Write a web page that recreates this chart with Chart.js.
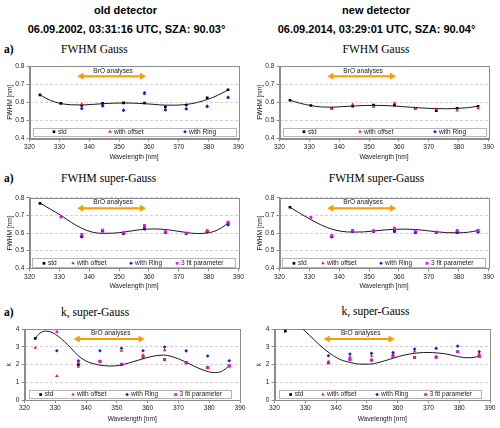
<!DOCTYPE html>
<html><head><meta charset="utf-8">
<script src="https://cdn.jsdelivr.net/npm/chart.js@4/dist/chart.umd.min.js"></script>
<style>
body{margin:0;width:500px;height:428px;background:#fff;position:relative;overflow:hidden}
.t{position:absolute;white-space:nowrap;transform:translate(-50%,-50%);line-height:1}
.h{font:bold 11px "Liberation Sans",Arial,sans-serif;color:#000}
.s{font:11.5px "Liberation Serif","Times New Roman",serif;color:#000}
.a{font:bold 11.5px "Liberation Serif","Times New Roman",serif;color:#000}
.l{transform:translate(0,-50%)}
canvas{position:absolute}
</style></head><body>
<div class="t h" style="left:125.5px;top:10px">old detector</div>
<div class="t h" style="left:126.5px;top:29px">06.09.2002, 03:31:16 UTC, SZA: 90.03°</div>
<div class="t h" style="left:376px;top:10px">new detector</div>
<div class="t h" style="left:376.5px;top:29px">06.09.2014, 03:29:01 UTC, SZA: 90.04°</div>

<div class="t a l" style="left:4px;top:49px">a)</div>
<div class="t s l" style="left:61px;top:49px">FWHM Gauss</div>
<div class="t s" style="left:376px;top:49px">FWHM Gauss</div>

<div class="t a l" style="left:4px;top:177.5px">a)</div>
<div class="t s l" style="left:61px;top:177.5px">FWHM super-Gauss</div>
<div class="t s" style="left:376.5px;top:177.5px">FWHM super-Gauss</div>

<div class="t a l" style="left:4px;top:311.5px">a)</div>
<div class="t s l" style="left:61px;top:311.5px">k, super-Gauss</div>
<div class="t s" style="left:375.5px;top:311px">k, super-Gauss</div>

<canvas id="L1" width="250" height="106" style="left:0;top:56px"></canvas>
<canvas id="R1" width="250" height="106" style="left:250px;top:56px"></canvas>
<canvas id="L2" width="250" height="103" style="left:0;top:188px"></canvas>
<canvas id="R2" width="250" height="103" style="left:250px;top:188px"></canvas>
<canvas id="L3" width="250" height="104" style="left:0;top:320px"></canvas>
<canvas id="R3" width="250" height="104" style="left:250px;top:320px"></canvas>

<script>
// ---------- data ----------
const wavelengths = [323.5, 330.5, 337.5, 344.5, 351.5, 358.5, 365.5, 372.5, 379.5, 386.5];
const xTickValues = [320, 330, 340, 350, 360, 370, 380, 390];
const fwhmTickValues = [0.4, 0.5, 0.6, 0.7, 0.8];
const kTickValues = [0, 1, 2, 3, 4];
const seriesLabels = ['std', 'with offset', 'with Ring', '3 fit parameter'];

// old detector, FWHM Gauss
const oldGaussStd    = [0.641, 0.594, 0.583, 0.594, 0.597, 0.596, 0.574, 0.585, 0.625, 0.669];
const oldGaussOffset = [null, null, 0.589, 0.583, 0.557, 0.645, 0.560, 0.565, 0.578, 0.625];
const oldGaussRing   = [null, null, 0.565, 0.580, 0.555, 0.652, 0.557, 0.563, 0.577, 0.627];
const oldGaussFitX = [323.5, 327, 330.5, 334, 337.5, 341, 344.5, 348, 351.5, 355, 358.5, 362, 365.5, 369, 372.5, 376, 379.5, 383, 386.5];
const oldGaussFitY = [0.641, 0.610, 0.593, 0.586, 0.585, 0.588, 0.592, 0.595, 0.596, 0.595, 0.592, 0.588, 0.584, 0.584, 0.588, 0.598, 0.615, 0.638, 0.668];

// new detector, FWHM Gauss
const newGaussStd    = [0.611, 0.582, 0.567, 0.578, 0.585, 0.585, 0.567, 0.554, 0.567, 0.578];
const newGaussOffset = [null, null, 0.565, 0.588, 0.575, 0.594, 0.565, 0.563, 0.554, 0.567];
const newGaussRing   = [null, null, null, null, null, null, null, null, null, null];
const newGaussFitX = [323.5, 327, 330.5, 334, 337.5, 341, 344.5, 348, 351.5, 355, 358.5, 362, 365.5, 369, 372.5, 376, 379.5, 383, 386.5];
const newGaussFitY = [0.611, 0.594, 0.582, 0.574, 0.573, 0.576, 0.579, 0.582, 0.583, 0.582, 0.579, 0.575, 0.571, 0.567, 0.565, 0.564, 0.566, 0.570, 0.578];

// old detector, FWHM super-Gauss
const oldSGStd    = [0.768, null, 0.580, 0.612, 0.597, 0.625, 0.603, 0.597, 0.608, 0.655];
const oldSGOffset = [null, null, 0.585, 0.612, 0.603, 0.640, 0.605, 0.598, 0.608, 0.660];
const oldSGRing   = [null, null, 0.577, 0.612, 0.597, 0.622, 0.603, 0.597, 0.610, 0.645];
const oldSGFit3   = [null, 0.690, 0.592, 0.617, 0.603, 0.643, 0.608, 0.600, 0.613, 0.662];
const oldSGFitX = [323.5, 327, 330.5, 334, 337.5, 341, 344.5, 348, 351.5, 355, 358.5, 362, 365.5, 369, 372.5, 376, 379.5, 383, 386.5];
const oldSGFitY = [0.770, 0.735, 0.700, 0.660, 0.627, 0.605, 0.598, 0.599, 0.605, 0.614, 0.621, 0.623, 0.620, 0.612, 0.603, 0.597, 0.600, 0.617, 0.655];

// new detector, FWHM super-Gauss
const newSGStd    = [0.746, null, 0.580, 0.612, 0.610, 0.610, 0.604, 0.603, 0.603, 0.614];
const newSGOffset = [null, null, 0.582, 0.612, 0.612, 0.625, 0.610, 0.600, 0.612, 0.612];
const newSGRing   = [null, null, 0.577, 0.610, 0.608, 0.608, 0.603, 0.603, 0.605, 0.604];
const newSGFit3   = [null, 0.689, 0.585, 0.614, 0.613, 0.628, 0.612, 0.605, 0.615, 0.614];
const newSGFitX = [323.5, 327, 330.5, 334, 337.5, 341, 344.5, 348, 351.5, 355, 358.5, 362, 365.5, 369, 372.5, 376, 379.5, 383, 386.5];
const newSGFitY = [0.746, 0.710, 0.676, 0.645, 0.622, 0.609, 0.605, 0.606, 0.611, 0.617, 0.621, 0.622, 0.620, 0.614, 0.607, 0.602, 0.601, 0.604, 0.614];

// old detector, k super-Gauss
const oldKStd    = [3.49, null, 2.00, 2.18, 2.00, 2.43, 2.30, 2.10, 1.85, 1.93];
const oldKOffset = [2.96, 1.36, 1.88, 2.20, 2.78, 2.54, 2.82, 2.12, 1.82, 1.92];
const oldKRing   = [null, 2.79, 2.22, 2.79, 2.93, 2.79, 3.00, 2.78, 2.49, 2.22];
const oldKFit3   = [null, 3.86, 2.12, 2.18, 2.03, 2.45, 2.30, 2.12, 1.85, 1.92];
const oldKFitX = [323.5, 325, 327, 329, 331, 333, 335, 337.5, 340, 342.5, 345, 348, 351, 354, 357.5, 361, 365, 368, 372, 375, 378, 381.5, 384, 386.5];
const oldKFitY = [3.49, 3.78, 3.90, 3.82, 3.60, 3.30, 2.95, 2.50, 2.20, 2.05, 1.96, 1.92, 1.97, 2.10, 2.28, 2.45, 2.54, 2.45, 2.18, 1.92, 1.70, 1.55, 1.62, 1.93];

// new detector, k super-Gauss
const newKStd    = [3.90, null, 2.10, 2.30, 2.26, 2.45, 2.41, 2.43, 2.73, 2.45];
const newKOffset = [null, null, 2.16, 2.45, 2.50, 2.60, 2.75, 2.43, 2.73, 2.60];
const newKRing   = [null, null, 2.50, 2.60, 2.64, 2.69, 2.88, 2.92, 3.05, 2.73];
const newKFit3   = [null, null, 2.13, 2.30, 2.26, 2.45, 2.41, 2.43, 2.73, 2.45];
const newKFitX = [323.5, 326.5, 329.3, 331.5, 334.7, 338, 341.2, 344.5, 347.7, 350.9, 354, 357.4, 360.5, 363.9, 367, 369.8, 373, 375.8, 379, 382.3, 384.5, 386.5];
const newKFitY = [4.70, 4.45, 4.00, 3.64, 3.10, 2.64, 2.30, 2.13, 2.03, 2.03, 2.13, 2.30, 2.47, 2.60, 2.67, 2.69, 2.66, 2.60, 2.48, 2.39, 2.40, 2.50];

// ---------- styling ----------
const family = '"Liberation Sans", Arial, sans-serif';
const seriesStyles = [
  {color:'#000000', style:'rect', r:1.9},
  {color:'#ff1a1a', style:'triangle', r:2},
  {color:'#1414ff', style:'rectRot', r:1.8},
  {color:'#ff00ff', style:'rect', r:1.9}
];

function pts(xs, ys){
  const out = [];
  xs.forEach((x,i) => { if (ys[i] !== null && ys[i] !== undefined) out.push({x:x, y:ys[i]}); });
  return out;
}

const deco = {
  id:'deco',
  beforeDatasetsDraw(chart, args, o){
    const {ctx, chartArea:a} = chart;
    ctx.save();
    ctx.strokeStyle = '#8c8c8c'; ctx.lineWidth = 1;
    const l = Math.round(a.left), t = Math.round(a.top), r = Math.round(a.right), b = Math.round(a.bottom);
    ctx.strokeRect(l + 0.5, t + 0.5, r - l, b - t);
    ctx.restore();
  },
  afterDatasetsDraw(chart, args, o){
    const {ctx, chartArea:a, scales} = chart;
    const h = a.bottom - a.top, w = a.right - a.left;
    ctx.save();
    // BrO analyses arrow
    const x1 = scales.x.getPixelForValue(o.arrowFrom), x2 = scales.x.getPixelForValue(o.arrowTo);
    const ya = a.top + o.arrowY * h;
    ctx.strokeStyle = '#ff9a00'; ctx.fillStyle = '#ff9a00'; ctx.lineWidth = 2;
    ctx.beginPath(); ctx.moveTo(x1 + 4, ya); ctx.lineTo(x2 - 4, ya); ctx.stroke();
    ctx.beginPath(); ctx.moveTo(x1, ya); ctx.lineTo(x1 + 6, ya - 3.5); ctx.lineTo(x1 + 6, ya + 3.5); ctx.closePath(); ctx.fill();
    ctx.beginPath(); ctx.moveTo(x2, ya); ctx.lineTo(x2 - 6, ya - 3.5); ctx.lineTo(x2 - 6, ya + 3.5); ctx.closePath(); ctx.fill();
    ctx.fillStyle = '#222'; ctx.font = '6.6px ' + family; ctx.textAlign = 'center'; ctx.textBaseline = 'middle';
    ctx.fillText(o.arrowText, scales.x.getPixelForValue(o.textX), a.top + o.textY * h);
    // legend box
    const lx1 = a.left + o.legL, lx2 = a.right - o.legR, lb = a.bottom - o.legB, lt = lb - o.legH;
    ctx.fillStyle = '#fff'; ctx.fillRect(lx1, lt, lx2 - lx1, lb - lt);
    ctx.strokeStyle = '#b4b4b4'; ctx.lineWidth = 1;
    ctx.strokeRect(Math.round(lx1) + 0.5, Math.round(lt) + 0.5, Math.round(lx2 - lx1), Math.round(lb - lt));
    const ly = (lt + lb) / 2;
    chart.data.datasets.forEach((ds, i) => {
      if (o.legX[i] === undefined) return;
      const mx = a.left + o.legX[i] * w;
      ctx.fillStyle = ds.backgroundColor;
      Chart.helpers.drawPoint(ctx, {pointStyle: ds.pointStyle, radius: ds.pointRadius, borderWidth: 0, rotation: 0}, mx, ly + 0.5);
      ctx.fillStyle = '#222'; ctx.textAlign = 'left'; ctx.textBaseline = 'middle';
      ctx.fillText(ds.label, mx + 4, ly + 0.5);
    });
    ctx.restore();
  }
};

function makeChart(id, cfg){
  const datasets = [];
  cfg.series.forEach((ys, i) => {
    const st = seriesStyles[i];
    datasets.push({
      label: seriesLabels[i], data: pts(wavelengths, ys),
      pointStyle: st.style, pointRadius: st.r, pointHoverRadius: st.r,
      backgroundColor: st.color, borderColor: st.color, borderWidth: 0,
      showLine: false, order: 4 - i
    });
  });
  datasets.push({
    label: 'fit', data: pts(cfg.fitX, cfg.fitY), showLine: true, pointRadius: 0,
    borderColor: '#1a1a1a', borderWidth: 1, cubicInterpolationMode: 'monotone', fill: false, order: 10
  });
  const tickFont = {size: 6.6, family: family};
  new Chart(document.getElementById(id), {
    type: 'scatter',
    data: {datasets},
    options: {
      responsive: false, animation: false, devicePixelRatio: 1, events: [],
      layout: {padding: {left: 0, right: cfg.padR, top: cfg.padT, bottom: 0}},
      plugins: {
        legend: {display: false}, tooltip: {enabled: false},
        deco: Object.assign({arrowFrom: 336, arrowTo: 359, arrowText: 'BrO analyses', textX: 348}, cfg.deco)
      },
      scales: {
        x: {
          type: 'linear', min: 320, max: 390,
          afterBuildTicks: s => { s.ticks = xTickValues.map(v => ({value: v})); },
          ticks: {font: tickFont, color: '#222', padding: 1.5, maxRotation: 0, autoSkip: false, callback: v => String(v)},
          grid: {display: true, drawOnChartArea: false, drawTicks: true, tickLength: 3, tickColor: '#8c8c8c', tickWidth: 1, tickBorderDash: []},
          border: {display: true, color: '#8c8c8c', width: 1},
          title: {display: true, text: 'Wavelength [nm]', font: tickFont, color: '#222', padding: {top: 0, bottom: 0.5}},
          afterFit: s => { s.height = cfg.xh; }
        },
        y: {
          type: 'linear', min: cfg.yMin, max: cfg.yMax,
          afterBuildTicks: s => { s.ticks = cfg.yTicks.map(v => ({value: v})); },
          ticks: {font: tickFont, color: '#222', padding: 2, callback: cfg.yFmt},
          grid: {display: true, drawOnChartArea: true, color: '#d2d2d2', lineWidth: 1, borderDash: [3, 2], drawTicks: true, tickLength: 3, tickColor: '#8c8c8c', tickWidth: 1, tickBorderDash: []},
          border: {display: true, color: '#8c8c8c', width: 1, dash: [3, 2]},
          title: {display: true, text: cfg.yTitle, font: tickFont, color: '#222', padding: {top: cfg.yTitlePad, bottom: 0}},
          afterFit: s => { s.width = cfg.yw; }
        }
      }
    },
    plugins: [deco]
  });
}

const fmt1 = v => Number(v).toFixed(1);
const fmt0 = v => String(v);

const row1 = {padT: 10, padR: 11.5, xh: 23.5, yw: 29.5, yMin: 0.4, yMax: 0.8, yTicks: fwhmTickValues, yFmt: fmt1, yTitle: 'FWHM [nm]', yTitlePad: 6.5,
  deco: {arrowY: 0.14, textY: 0.07, legL: 3, legR: 3.5, legB: 3.5, legH: 7.5, legX: [0.117, 0.385, 0.744]}};
const row2 = {padT: 9.7, padR: 11.5, xh: 22.7, yw: 29.5, yMin: 0.4, yMax: 0.8, yTicks: fwhmTickValues, yFmt: fmt1, yTitle: 'FWHM [nm]', yTitlePad: 6.5,
  deco: {arrowY: 0.15, textY: 0.07, legL: 2.5, legR: 3.5, legB: 1, legH: 9, legX: [0.069, 0.208, 0.486, 0.706]}};
const row3 = {padT: 9.3, padR: 10, xh: 24, yw: 24.5, yMin: 0, yMax: 4, yTicks: kTickValues, yFmt: fmt0, yTitle: 'k', yTitlePad: 5.5,
  deco: {arrowY: 0.137, textY: 0.05, legL: 4.5, legR: 9, legB: 2, legH: 8, legX: [0.075, 0.225, 0.476, 0.701]}};

makeChart('L1', Object.assign({}, row1, {series: [oldGaussStd, oldGaussOffset, oldGaussRing], fitX: oldGaussFitX, fitY: oldGaussFitY}));
makeChart('R1', Object.assign({}, row1, {series: [newGaussStd, newGaussOffset, newGaussRing], fitX: newGaussFitX, fitY: newGaussFitY}));
makeChart('L2', Object.assign({}, row2, {series: [oldSGStd, oldSGOffset, oldSGRing, oldSGFit3], fitX: oldSGFitX, fitY: oldSGFitY}));
makeChart('R2', Object.assign({}, row2, {series: [newSGStd, newSGOffset, newSGRing, newSGFit3], fitX: newSGFitX, fitY: newSGFitY}));
makeChart('L3', Object.assign({}, row3, {series: [oldKStd, oldKOffset, oldKRing, oldKFit3], fitX: oldKFitX, fitY: oldKFitY}));
makeChart('R3', Object.assign({}, row3, {series: [newKStd, newKOffset, newKRing, newKFit3], fitX: newKFitX, fitY: newKFitY}));
</script>
</body></html>
